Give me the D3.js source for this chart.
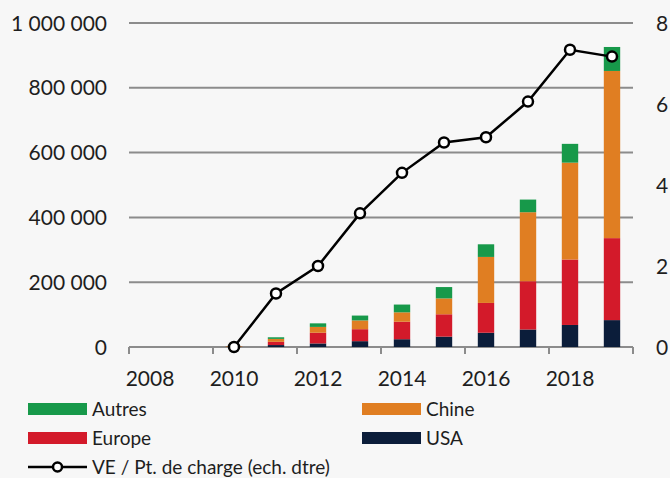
<!DOCTYPE html>
<html>
<head>
<meta charset="utf-8">
<script src="https://cdn.jsdelivr.net/npm/d3@7"></script>
<style>
  body { margin: 0; background: #f7f7f7; }
  text { font-family: Lato, "Open Sans", sans-serif; fill: #1e1e1e; }
</style>
</head>
<body>
<div id="chart-area"></div>
<script>
//data
var years = [2008, 2009, 2010, 2011, 2012, 2013, 2014, 2015, 2016, 2017, 2018, 2019];
var usa    = [0, 0, 500, 6000, 11000, 18000, 24000, 32000, 44000, 54000, 68000, 83000];
var europe = [0, 0, 700, 10000, 33000, 37000, 54000, 69000, 92000, 149000, 202000, 253000];
var chine  = [0, 0, 1500, 9000, 18000, 27000, 29000, 49000, 142000, 213000, 299000, 516000];
var autres = [0, 0, 300, 5000, 11000, 15000, 24000, 35000, 39000, 39000, 58000, 74000];
var ratio  = [null, null, 0, 1.32, 2.0, 3.3, 4.3, 5.05, 5.18, 6.06, 7.34, 7.17]; //VE per charging point (right scale)
var leftTicks = [0, 200000, 400000, 600000, 800000, 1000000];
var rightTicks = [0, 2, 4, 6, 8];
var yearLabels = [2008, 2010, 2012, 2014, 2016, 2018];

var seriesNames = ["USA", "Europe", "Chine", "Autres"];
var colors = {USA: "#0b1d3a", Europe: "#d31a2a", Chine: "#e07e22", Autres: "#17994a"};

var W = 670, H = 478;
var svg = d3.select("#chart-area").append("svg")
    .attr("width", W)
    .attr("height", H);

//scales
var x = d3.scaleBand().domain(years).range([129, 633]);
var y = d3.scaleLinear().domain([0, 1000000]).range([347, 23]);
var y2 = d3.scaleLinear().domain([0, 8]).range([347, 23]);
var barW = x.bandwidth() * 0.39;

//gridlines
svg.append("g").selectAll("line")
    .data(leftTicks)
  .enter().append("line")
    .attr("x1", 129).attr("x2", 633)
    .attr("y1", d => y(d)).attr("y2", d => y(d))
    .attr("stroke", "#8c8c8c")
    .attr("stroke-width", 2);

//left axis labels
var fmt = d => d3.format(",")(d).replace(/,/g, " ");
svg.append("g").selectAll("text")
    .data(leftTicks)
  .enter().append("text")
    .attr("x", 107)
    .attr("y", d => y(d))
    .attr("dy", "0.36em")
    .attr("text-anchor", "end")
    .attr("font-size", 21)
    .text(fmt);

//right axis labels
svg.append("g").selectAll("text")
    .data(rightTicks)
  .enter().append("text")
    .attr("x", 656)
    .attr("y", d => y2(d))
    .attr("dy", "0.36em")
    .attr("font-size", 21)
    .text(d => d);

//x ticks at band edges, every 2 years
var tickX = yearLabels.map(d => x(d)).concat([x.range()[1]]);
svg.append("g").selectAll("line")
    .data(tickX)
  .enter().append("line")
    .attr("x1", d => d).attr("x2", d => d)
    .attr("y1", 347).attr("y2", 354)
    .attr("stroke", "#8c8c8c")
    .attr("stroke-width", 2);

svg.append("g").selectAll("text")
    .data(yearLabels)
  .enter().append("text")
    .attr("x", d => x(d) + x.bandwidth() / 2)
    .attr("y", 378)
    .attr("dy", "0.36em")
    .attr("text-anchor", "middle")
    .attr("font-size", 21)
    .text(d => d);

//stacked bars
var table = years.map((yr, i) => ({year: yr, USA: usa[i], Europe: europe[i], Chine: chine[i], Autres: autres[i]}));
var stacked = d3.stack().keys(seriesNames)(table);

svg.append("g").selectAll("g")
    .data(stacked)
  .enter().append("g")
    .attr("fill", d => colors[d.key])
  .selectAll("rect")
    .data(d => d)
  .enter().append("rect")
    .attr("x", d => x(d.data.year) + (x.bandwidth() - barW) / 2)
    .attr("width", barW)
    .attr("y", d => y(d[1]))
    .attr("height", d => y(d[0]) - y(d[1]));

//line on the right scale
var pts = years.map((yr, i) => ({year: yr, v: ratio[i]})).filter(d => d.v !== null);
var line = d3.line()
    .x(d => x(d.year) + x.bandwidth() / 2)
    .y(d => y2(d.v));

svg.append("path")
    .datum(pts)
    .attr("d", line)
    .attr("fill", "none")
    .attr("stroke", "#000")
    .attr("stroke-width", 2.5);

svg.append("g").selectAll("circle")
    .data(pts)
  .enter().append("circle")
    .attr("cx", d => x(d.year) + x.bandwidth() / 2)
    .attr("cy", d => y2(d.v))
    .attr("r", 5)
    .attr("fill", "#fff")
    .attr("stroke", "#000")
    .attr("stroke-width", 2.5);

//legend
var legendItems = [
    {name: "Autres", col: 0, row: 0},
    {name: "Chine", col: 1, row: 0},
    {name: "Europe", col: 0, row: 1},
    {name: "USA", col: 1, row: 1}
];
var legend = svg.append("g");
var lg = legend.selectAll("g")
    .data(legendItems)
  .enter().append("g")
    .attr("transform", d => "translate(" + (d.col ? 362 : 28) + "," + (409 + d.row * 29) + ")");
lg.append("rect")
    .attr("x", 0).attr("y", -6)
    .attr("width", 59).attr("height", 12)
    .attr("fill", d => colors[d.name]);
lg.append("text")
    .attr("x", 64)
    .attr("dy", "0.36em")
    .attr("font-size", 19)
    .text(d => d.name);

var lineLeg = legend.append("g").attr("transform", "translate(28,467)");
lineLeg.append("line")
    .attr("x1", 0).attr("x2", 59)
    .attr("stroke", "#000").attr("stroke-width", 2.5);
lineLeg.append("circle")
    .attr("cx", 29.5).attr("r", 4.5)
    .attr("fill", "#fff").attr("stroke", "#000").attr("stroke-width", 2.5);
lineLeg.append("text")
    .attr("x", 64)
    .attr("dy", "0.36em")
    .attr("font-size", 19)
    .text("VE / Pt. de charge (ech. dtre)");
</script>
</body>
</html>
